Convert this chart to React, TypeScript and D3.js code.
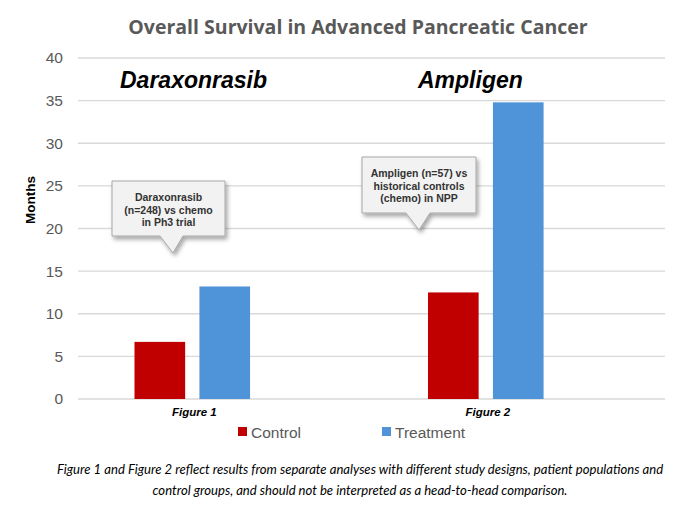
import React from "react";
import * as d3 from "d3";

const categories = ["Figure 1", "Figure 2"];
const series = ["Control", "Treatment", ""];
const controlValues = [6.7, 12.5];
const treatmentValues = [13.2, 34.8];
const yTicks = [0, 5, 10, 15, 20, 25, 30, 35, 40];
const drugNames = ["Daraxonrasib", "Ampligen"];
const calloutTexts = [
  ["Daraxonrasib", "(n=248) vs chemo", "in Ph3 trial"],
  ["Ampligen (n=57) vs", "historical controls", "(chemo) in NPP"],
];
const title = "Overall Survival in Advanced Pancreatic Cancer";
const footnote = [
  "Figure 1 and Figure 2 reflect results from separate analyses with different study designs, patient populations and",
  "control groups, and should not be interpreted as a head-to-head comparison.",
];
const colors = ["#C00000", "#4F94D8"];

const W = 694;
const H = 511;
const plotLeft = 78;
const plotRight = 665;
const yTop = 58;
const yBottom = 399;

export default function App() {
  const x = d3.scaleBand<string>().domain(categories).range([plotLeft, plotRight]);
  const xs = d3
    .scaleBand<string>()
    .domain(series)
    .range([0, x.bandwidth()])
    .paddingInner(0.22)
    .paddingOuter(0.87);
  const y = d3.scaleLinear().domain([0, 40]).range([yBottom, yTop]);
  const values = [controlValues, treatmentValues];

  const groupCenter = (c: string) =>
    (x(c)! + xs("Control")! + x(c)! + xs("Treatment")! + xs.bandwidth()) / 2;

  const callouts = [
    { x0: 112, y0: 181, w: 113, h: 55, tail: [[160, 236], [173, 253], [183, 236]] },
    { x0: 362, y0: 157, w: 114, h: 56, tail: [[406, 213], [419, 230], [430, 213]] },
  ];

  return (
    <svg
      width={W}
      height={H}
      style={{ position: "absolute", left: 0, top: 0, background: "#fff" }}
      fontFamily="'Liberation Sans', Arial, sans-serif"
    >
      <defs>
        <filter id="shadow" x="-20%" y="-20%" width="150%" height="160%">
          <feDropShadow dx="2" dy="3" stdDeviation="2" floodColor="#000" floodOpacity="0.35" />
        </filter>
      </defs>
      <rect x={0} y={0} width={W} height={H} fill="#fff" />
      <text
        x={W / 2 + 11}
        y={34}
        textAnchor="middle"
        fontSize={19.5}
        fontWeight="bold"
        fontFamily="'Open Sans', sans-serif"
        fill="#595959"
      >
        {title}
      </text>

      {yTicks.map((t) => (
        <g key={t}>
          <line
            x1={plotLeft}
            x2={plotRight}
            y1={y(t)}
            y2={y(t)}
            stroke="#D9D9D9"
            strokeWidth={1.3}
          />
          <text
            x={63}
            y={y(t)}
            dy="0.35em"
            textAnchor="end"
            fontSize={15.5}
            fill="#595959"
          >
            {t}
          </text>
        </g>
      ))}

      <text
        transform={`translate(35,200) rotate(-90)`}
        textAnchor="middle"
        fontSize={13.5}
        fontWeight="bold"
        fill="#000"
      >
        Months
      </text>

      {categories.map((c, i) =>
        values.map((vals, s) => (
          <rect
            key={c + s}
            x={x(c)! + xs(series[s])!}
            y={y(vals[i])}
            width={xs.bandwidth()}
            height={y(0) - y(vals[i])}
            fill={colors[s]}
          />
        ))
      )}

      {categories.map((c, i) => (
        <text
          key={"d" + c}
          x={i === 0 ? 120 : 418}
          y={88}
          fontSize={23}
          fontWeight="bold"
          fontStyle="italic"
          fill="#000"
        >
          {drugNames[i]}
        </text>
      ))}

      {categories.map((c) => (
        <text
          key={"c" + c}
          x={groupCenter(c) + 2}
          y={416}
          textAnchor="middle"
          fontSize={11.5}
          fontWeight="bold"
          fontStyle="italic"
          fill="#000"
        >
          {c}
        </text>
      ))}

      {callouts.map((co, i) => {
        const path =
          `M${co.x0},${co.y0} H${co.x0 + co.w} V${co.y0 + co.h} H${co.tail[2][0]} ` +
          `L${co.tail[1][0]},${co.tail[1][1]} L${co.tail[0][0]},${co.tail[0][1]} H${co.x0} Z`;
        return (
          <g key={"co" + i}>
            <path d={path} fill="#F2F2F2" stroke="#A6A6A6" strokeWidth={1} filter="url(#shadow)" />
            {calloutTexts[i].map((line, j) => (
              <text
                key={j}
                x={co.x0 + co.w / 2}
                y={co.y0 + 20 + j * 12.5}
                textAnchor="middle"
                fontSize={10.5}
                fontWeight="bold"
                fill="#333"
              >
                {line}
              </text>
            ))}
          </g>
        );
      })}

      {[0, 1].map((s) => (
        <g key={"l" + s} transform={`translate(${s === 0 ? 238 : 382},0)`}>
          <rect x={0} y={427} width={9} height={9} fill={colors[s]} />
          <text x={13} y={437.5} fontSize={15.5} fill="#595959">
            {series[s]}
          </text>
        </g>
      ))}

      {footnote.map((line, j) => (
        <text
          key={"f" + j}
          x={W / 2 + 13}
          y={474 + j * 21}
          textAnchor="middle"
          fontSize={13.1}
          fontStyle="italic"
          fontFamily="Lato, sans-serif"
          fill="#000"
        >
          {line}
        </text>
      ))}
    </svg>
  );
}
